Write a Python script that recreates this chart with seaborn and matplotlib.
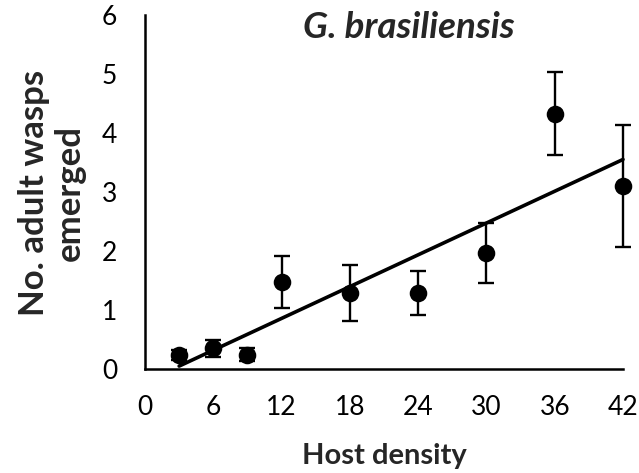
import numpy as np
import pandas as pd
import matplotlib
matplotlib.use("Agg")
import matplotlib.pyplot as plt
import seaborn as sns

host_density = [3, 6, 9, 12, 18, 24, 30, 36, 42]
wasps_mean = [0.24, 0.35, 0.24, 1.48, 1.29, 1.29, 1.97, 4.33, 3.10]
wasps_err = [0.08, 0.15, 0.11, 0.44, 0.48, 0.37, 0.51, 0.71, 1.04]
trend_slope = 0.0898
trend_intercept = -0.22
x_ticks = [0, 6, 12, 18, 24, 30, 36, 42]
y_ticks = [0, 1, 2, 3, 4, 5, 6]
title = "G. brasiliensis"
x_label = "Host density"
y_label = "No. adult wasps\nemerged"

sns.set_theme(style="white")
plt.rcParams['font.family'] = ['Lato', 'DejaVu Sans']

df = pd.DataFrame({"density": host_density, "mean": wasps_mean, "err": wasps_err})
trend_x = np.array([host_density[0], host_density[-1]], dtype=float)
trend_df = pd.DataFrame({"density": trend_x, "fit": trend_slope * trend_x + trend_intercept})

fig = plt.figure(figsize=(6.39, 4.73), dpi=100)
ax = fig.add_axes([145/639, 1 - 369/473, 478/639, 354/473])

eb = ax.errorbar(df["density"], df["mean"], yerr=df["err"], fmt="none",
                 ecolor="black", elinewidth=1.7, capsize=5.5, capthick=1.7, zorder=2)
for artist in eb.lines[1] + eb.lines[2]:
    artist.set_clip_on(False)
sns.lineplot(data=trend_df, x="density", y="fit", ax=ax, color="black",
             linewidth=2.6, zorder=3, clip_on=False)
sns.scatterplot(data=df, x="density", y="mean", ax=ax, color="black",
                s=160, edgecolor="black", linewidth=0, zorder=4, clip_on=False)

ax.set_xlim(0, 42)
ax.set_ylim(0, 6)
ax.set_xticks(x_ticks)
ax.set_yticks(y_ticks)
ax.set_xticklabels([str(t) for t in x_ticks])
ax.set_yticklabels([str(t) for t in y_ticks])
ax.tick_params(axis="both", direction="in", length=4.5, width=1.5,
               colors="black", labelsize=19)
ax.tick_params(axis="x", pad=19)
ax.tick_params(axis="y", pad=20)
for s in ["top", "right"]:
    ax.spines[s].set_visible(False)
for s in ["left", "bottom"]:
    ax.spines[s].set_linewidth(1.8)
    ax.spines[s].set_color("black")

ax.set_xlabel(x_label, fontsize=21, fontweight="bold", labelpad=16)
ax.set_ylabel("")
fig.text(52/639, 1 - 193/473, y_label, rotation=90, ha="center", va="center",
         fontsize=25, fontweight="bold", linespacing=1.12, multialignment="center")
ax.text(0.552, 0.966, title, transform=ax.transAxes, ha="center", va="center",
        fontsize=26.5, fontweight="bold", fontstyle="italic")
ax.grid(False)

fig.savefig("out.png", dpi=100)
